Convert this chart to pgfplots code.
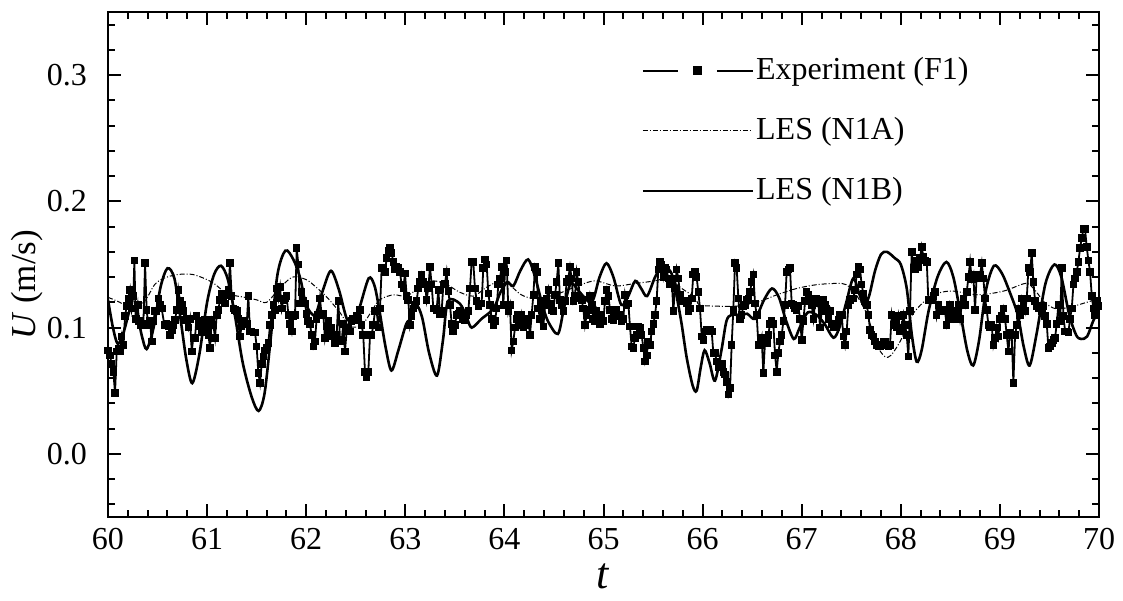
\documentclass[border=0pt]{standalone}
\usepackage{fontspec}
\setmainfont{Liberation Serif}
\usepackage{pgfplots}
\pgfplotsset{compat=1.18}
\usepackage{pgfplotstable}

\pgfplotstableread{
t U
60.003 0.082
60.020 0.078
60.037 0.071
60.054 0.065
60.071 0.048
60.088 0.081
60.105 0.083
60.121 0.081
60.138 0.093
60.155 0.086
60.172 0.109
60.189 0.117
60.205 0.123
60.222 0.130
60.239 0.115
60.256 0.125
60.266 0.153
60.280 0.107
60.300 0.118
60.313 0.105
60.333 0.102
60.357 0.103
60.374 0.151
60.390 0.114
60.407 0.102
60.424 0.105
60.441 0.089
60.458 0.105
60.475 0.113
60.491 0.113
60.508 0.123
60.525 0.118
60.542 0.115
60.569 0.102
60.592 0.103
60.609 0.101
60.626 0.094
60.643 0.098
60.660 0.102
60.676 0.106
60.693 0.114
60.710 0.130
60.727 0.121
60.744 0.118
60.760 0.113
60.777 0.106
60.794 0.107
60.811 0.100
60.828 0.107
60.845 0.081
60.861 0.092
60.878 0.092
60.895 0.109
60.912 0.105
60.929 0.101
60.945 0.096
60.962 0.103
60.979 0.106
60.996 0.100
61.013 0.094
61.030 0.084
61.046 0.106
61.063 0.102
61.080 0.092
61.097 0.110
61.114 0.114
61.130 0.122
61.147 0.127
61.164 0.123
61.181 0.119
61.198 0.126
61.215 0.130
61.231 0.151
61.248 0.125
61.265 0.115
61.282 0.114
61.299 0.113
61.315 0.107
61.332 0.093
61.349 0.101
61.366 0.105
61.383 0.103
61.400 0.103
61.416 0.125
61.433 0.097
61.450 0.097
61.467 0.096
61.484 0.096
61.500 0.085
61.517 0.064
61.534 0.056
61.551 0.071
61.568 0.077
61.585 0.082
61.601 0.084
61.618 0.088
61.635 0.102
61.652 0.110
61.669 0.118
61.685 0.114
61.702 0.131
61.719 0.123
61.736 0.132
61.753 0.115
61.770 0.122
61.786 0.123
61.803 0.125
61.820 0.110
61.837 0.103
61.854 0.097
61.870 0.109
61.887 0.110
61.904 0.163
61.921 0.150
61.938 0.119
61.954 0.128
61.971 0.121
61.987 0.119
62.004 0.111
62.021 0.105
62.038 0.103
62.055 0.094
62.072 0.085
62.088 0.089
62.105 0.107
62.122 0.110
62.139 0.123
62.156 0.110
62.172 0.111
62.189 0.092
62.206 0.101
62.223 0.105
62.240 0.098
62.257 0.100
62.273 0.093
62.290 0.088
62.307 0.094
62.324 0.121
62.341 0.090
62.358 0.089
62.374 0.103
62.391 0.081
62.408 0.097
62.425 0.100
62.442 0.097
62.459 0.105
62.475 0.107
62.492 0.106
62.509 0.109
62.526 0.107
62.543 0.114
62.560 0.102
62.576 0.094
62.593 0.065
62.610 0.061
62.627 0.065
62.644 0.094
62.660 0.094
62.677 0.102
62.694 0.113
62.711 0.113
62.728 0.100
62.745 0.115
62.761 0.147
62.778 0.147
62.795 0.144
62.812 0.155
62.829 0.161
62.845 0.163
62.862 0.159
62.879 0.152
62.896 0.146
62.913 0.148
62.930 0.147
62.946 0.144
62.963 0.134
62.980 0.131
62.997 0.143
63.014 0.125
63.030 0.122
63.047 0.102
63.064 0.109
63.081 0.115
63.098 0.118
63.114 0.121
63.131 0.131
63.148 0.136
63.165 0.142
63.182 0.136
63.199 0.134
63.215 0.122
63.232 0.131
63.249 0.148
63.266 0.134
63.283 0.115
63.299 0.115
63.316 0.114
63.333 0.130
63.350 0.111
63.367 0.113
63.384 0.134
63.400 0.135
63.417 0.144
63.434 0.129
63.451 0.118
63.468 0.103
63.484 0.097
63.501 0.102
63.518 0.110
63.535 0.111
63.552 0.113
63.569 0.111
63.585 0.107
63.602 0.106
63.619 0.110
63.636 0.113
63.653 0.131
63.669 0.152
63.686 0.152
63.703 0.131
63.720 0.121
63.737 0.117
63.754 0.119
63.770 0.119
63.787 0.147
63.804 0.154
63.821 0.150
63.838 0.127
63.854 0.118
63.871 0.107
63.888 0.102
63.905 0.105
63.922 0.115
63.938 0.134
63.955 0.139
63.972 0.148
63.989 0.118
64.006 0.144
64.023 0.153
64.040 0.113
64.056 0.118
64.073 0.082
64.090 0.089
64.107 0.100
64.124 0.107
64.140 0.110
64.157 0.102
64.174 0.110
64.191 0.100
64.208 0.102
64.225 0.106
64.241 0.107
64.258 0.094
64.275 0.110
64.292 0.126
64.309 0.148
64.326 0.144
64.342 0.115
64.359 0.107
64.376 0.121
64.393 0.101
64.410 0.118
64.426 0.123
64.443 0.130
64.460 0.119
64.477 0.114
64.494 0.113
64.511 0.126
64.527 0.136
64.544 0.151
64.561 0.122
64.578 0.118
64.595 0.113
64.611 0.121
64.628 0.136
64.645 0.139
64.662 0.148
64.679 0.139
64.696 0.121
64.712 0.125
64.729 0.144
64.746 0.136
64.763 0.123
64.780 0.122
64.796 0.115
64.813 0.102
64.830 0.110
64.847 0.114
64.864 0.125
64.881 0.118
64.897 0.107
64.914 0.105
64.931 0.113
64.948 0.105
64.965 0.103
64.981 0.110
64.998 0.105
65.015 0.121
65.032 0.130
65.049 0.125
65.066 0.114
65.082 0.107
65.099 0.106
65.116 0.113
65.133 0.114
65.150 0.109
65.166 0.110
65.183 0.105
65.200 0.107
65.217 0.126
65.234 0.118
65.251 0.119
65.267 0.101
65.284 0.085
65.301 0.084
65.318 0.092
65.335 0.094
65.351 0.101
65.368 0.100
65.385 0.094
65.402 0.084
65.419 0.073
65.436 0.078
65.452 0.089
65.469 0.086
65.486 0.097
65.503 0.103
65.520 0.110
65.536 0.121
65.553 0.146
65.570 0.152
65.587 0.150
65.604 0.140
65.621 0.147
65.637 0.146
65.654 0.139
65.671 0.134
65.688 0.139
65.705 0.113
65.721 0.131
65.738 0.146
65.755 0.139
65.772 0.126
65.789 0.121
65.806 0.121
65.822 0.121
65.839 0.119
65.856 0.113
65.873 0.115
65.890 0.123
65.906 0.142
65.923 0.144
65.940 0.140
65.957 0.128
65.974 0.115
65.991 0.093
66.008 0.090
66.024 0.097
66.041 0.098
66.058 0.097
66.075 0.098
66.092 0.097
66.108 0.080
66.125 0.080
66.142 0.073
66.159 0.069
66.176 0.071
66.193 0.071
66.209 0.065
66.226 0.063
66.243 0.057
66.260 0.047
66.277 0.052
66.293 0.086
66.310 0.114
66.327 0.151
66.344 0.147
66.361 0.123
66.378 0.107
66.394 0.110
66.411 0.117
66.428 0.118
66.445 0.122
66.462 0.123
66.478 0.128
66.495 0.136
66.512 0.142
66.529 0.119
66.546 0.110
66.563 0.086
66.579 0.086
66.596 0.092
66.613 0.064
66.630 0.089
66.647 0.088
66.663 0.094
66.680 0.103
66.697 0.105
66.714 0.103
66.731 0.078
66.748 0.065
66.764 0.080
66.781 0.089
66.798 0.094
66.815 0.105
66.832 0.118
66.848 0.144
66.865 0.146
66.882 0.147
66.899 0.119
66.916 0.118
66.933 0.115
66.949 0.114
66.966 0.117
66.983 0.107
67.000 0.090
67.017 0.105
67.034 0.121
67.050 0.128
67.067 0.126
67.084 0.123
67.101 0.118
67.118 0.107
67.134 0.119
67.151 0.123
67.168 0.119
67.185 0.100
67.202 0.113
67.219 0.122
67.235 0.118
67.252 0.115
67.269 0.107
67.286 0.113
67.303 0.103
67.319 0.100
67.336 0.100
67.353 0.100
67.370 0.106
67.387 0.110
67.404 0.110
67.420 0.093
67.437 0.086
67.454 0.097
67.471 0.118
67.488 0.122
67.505 0.123
67.521 0.123
67.538 0.130
67.555 0.142
67.572 0.148
67.589 0.146
67.605 0.134
67.622 0.127
67.639 0.121
67.656 0.118
67.673 0.110
67.690 0.098
67.706 0.094
67.723 0.093
67.740 0.089
67.757 0.086
67.774 0.085
67.790 0.085
67.807 0.086
67.824 0.089
67.841 0.089
67.858 0.086
67.875 0.085
67.891 0.086
67.908 0.110
67.925 0.102
67.942 0.105
67.959 0.100
67.976 0.109
67.992 0.097
68.009 0.100
68.026 0.110
68.043 0.102
68.060 0.094
68.076 0.077
68.093 0.113
68.110 0.160
68.127 0.147
68.144 0.146
68.161 0.153
68.177 0.148
68.194 0.155
68.211 0.164
68.228 0.156
68.245 0.153
68.262 0.152
68.278 0.122
68.295 0.122
68.312 0.122
68.329 0.125
68.346 0.128
68.362 0.110
68.379 0.118
68.396 0.113
68.413 0.113
68.430 0.114
68.446 0.113
68.463 0.102
68.480 0.107
68.497 0.118
68.514 0.113
68.531 0.107
68.547 0.113
68.564 0.110
68.581 0.118
68.598 0.107
68.615 0.118
68.632 0.123
68.648 0.118
68.665 0.128
68.682 0.140
68.699 0.152
68.716 0.138
68.732 0.142
68.749 0.114
68.766 0.142
68.783 0.139
68.800 0.142
68.817 0.151
68.833 0.139
68.850 0.123
68.867 0.114
68.884 0.102
68.901 0.100
68.917 0.102
68.934 0.086
68.951 0.092
68.968 0.100
68.985 0.093
69.002 0.107
69.018 0.109
69.035 0.115
69.052 0.107
69.069 0.094
69.086 0.081
69.102 0.096
69.119 0.094
69.136 0.056
69.153 0.094
69.170 0.102
69.187 0.115
69.203 0.110
69.220 0.123
69.237 0.119
69.254 0.113
69.271 0.123
69.288 0.147
69.304 0.144
69.321 0.159
69.338 0.136
69.355 0.121
69.372 0.117
69.388 0.115
69.405 0.117
69.422 0.113
69.439 0.117
69.456 0.109
69.473 0.103
69.489 0.084
69.506 0.085
69.523 0.088
69.540 0.090
69.557 0.092
69.573 0.103
69.590 0.118
69.607 0.105
69.624 0.147
69.641 0.109
69.658 0.097
69.674 0.097
69.691 0.096
69.708 0.107
69.725 0.115
69.742 0.134
69.758 0.139
69.775 0.144
69.792 0.152
69.809 0.163
69.826 0.171
69.843 0.178
69.859 0.178
69.876 0.164
69.893 0.153
69.910 0.144
69.927 0.125
69.943 0.115
69.960 0.110
69.977 0.121
69.994 0.117
}\expdata

\pgfplotstableread{
t U
60.00 0.124
60.12 0.120
60.26 0.114
60.38 0.122
60.47 0.134
60.56 0.139
60.70 0.142
60.86 0.142
61.05 0.136
61.20 0.127
61.38 0.124
61.50 0.122
61.60 0.120
61.72 0.130
61.86 0.140
62.00 0.138
62.10 0.132
62.21 0.124
62.34 0.112
62.44 0.101
62.56 0.102
62.66 0.113
62.74 0.122
62.88 0.126
63.01 0.125
63.15 0.132
63.28 0.137
63.42 0.134
63.55 0.128
63.69 0.125
63.82 0.132
63.96 0.137
64.05 0.134
64.17 0.126
64.31 0.123
64.51 0.126
64.71 0.132
64.91 0.137
65.12 0.133
65.32 0.135
65.52 0.137
65.65 0.139
65.79 0.131
65.92 0.124
65.97 0.118
66.14 0.117
66.34 0.117
66.55 0.120
66.75 0.126
66.95 0.131
67.15 0.134
67.35 0.135
67.45 0.134
67.55 0.126
67.66 0.110
67.76 0.086
67.84 0.077
67.90 0.078
68.00 0.090
68.10 0.108
68.20 0.118
68.33 0.126
68.51 0.129
68.78 0.126
69.04 0.129
69.26 0.135
69.35 0.130
69.45 0.120
69.56 0.115
69.70 0.116
69.79 0.118
70.00 0.123
}\nonea

\pgfplotstableread{
t U
60.00 0.122
60.05 0.100
60.10 0.087
60.16 0.097
60.23 0.116
60.29 0.112
60.34 0.094
60.39 0.083
60.46 0.100
60.53 0.132
60.60 0.147
60.67 0.139
60.73 0.108
60.79 0.075
60.85 0.056
60.92 0.078
61.00 0.120
61.07 0.142
61.14 0.149
61.21 0.138
61.28 0.110
61.36 0.072
61.45 0.045
61.52 0.034
61.58 0.048
61.64 0.090
61.71 0.142
61.79 0.161
61.87 0.154
61.94 0.139
62.00 0.118
62.09 0.110
62.17 0.130
62.25 0.145
62.33 0.130
62.41 0.107
62.47 0.108
62.53 0.114
62.63 0.139
62.69 0.133
62.74 0.113
62.80 0.085
62.86 0.066
62.93 0.082
63.01 0.103
63.06 0.107
63.11 0.118
63.17 0.108
63.24 0.080
63.32 0.062
63.38 0.090
63.43 0.121
63.55 0.119
63.62 0.108
63.67 0.100
63.77 0.107
63.89 0.115
63.96 0.128
64.03 0.136
64.09 0.133
64.16 0.145
64.24 0.154
64.31 0.140
64.38 0.119
64.44 0.105
64.54 0.095
64.60 0.115
64.67 0.135
64.76 0.128
64.88 0.120
64.96 0.140
65.03 0.151
65.10 0.140
65.18 0.118
65.25 0.125
65.32 0.137
65.38 0.131
65.44 0.125
65.52 0.140
65.59 0.149
65.65 0.147
65.70 0.140
65.75 0.120
65.79 0.102
65.84 0.076
65.90 0.054
65.94 0.050
65.98 0.068
66.02 0.082
66.07 0.072
66.125 0.058
66.19 0.082
66.24 0.105
66.29 0.110
66.39 0.110
66.45 0.111
66.53 0.107
66.62 0.122
66.70 0.131
66.77 0.124
66.84 0.106
66.92 0.091
66.98 0.100
67.06 0.112
67.15 0.110
67.23 0.103
67.32 0.092
67.38 0.100
67.45 0.120
67.52 0.139
67.58 0.127
67.63 0.117
67.68 0.125
67.74 0.145
67.80 0.158
67.86 0.160
67.94 0.155
68.00 0.150
68.06 0.131
68.11 0.095
68.16 0.073
68.21 0.082
68.28 0.113
68.37 0.140
68.46 0.152
68.53 0.140
68.60 0.112
68.67 0.082
68.73 0.070
68.79 0.090
68.86 0.130
68.94 0.149
69.02 0.143
69.10 0.128
69.18 0.110
69.24 0.085
69.30 0.070
69.37 0.095
69.46 0.135
69.55 0.150
69.62 0.140
69.70 0.110
69.77 0.094
69.82 0.091
69.88 0.093
69.94 0.105
70.00 0.115
}\noneb

\begin{document}
\fontsize{16}{19}\selectfont
\begin{tikzpicture}
\begin{axis}[
  name=ax,
  scale only axis,
  width=495.5pt, height=252.5pt,
  xmin=60, xmax=70, ymin=-0.05, ymax=0.35,
  xtick={60,61,...,70}, minor x tick num=4,
  ytick={0,0.1,0.2,0.3},
  minor ytick={-0.04,-0.02,0.02,0.04,0.06,0.08,0.12,0.14,0.16,0.18,0.22,0.24,0.26,0.28,0.32,0.34},
  scaled y ticks=false,
  tick align=inside,
  major tick length=6.5pt, minor tick length=3.5pt,
  tick style={black, line width=1pt},
  axis line style={line width=1.4pt},
  /pgf/number format/assume math mode=true,
  ticklabel style={font=\fontsize{16}{19}\selectfont},
  yticklabel style={/pgf/number format/fixed, /pgf/number format/fixed zerofill, /pgf/number format/precision=1, xshift=-5pt},
  xlabel={\textit{t}}, ylabel={\textit{U} (m/s)},
  xlabel style={font=\fontsize{22}{26}\selectfont, yshift=4pt},
  every axis y label/.style={at={(axis description cs:-0.0817,0.46)}, rotate=90, anchor=center,
    font=\fontsize{17.5}{21}\selectfont},
  legend style={draw=none, fill=none, at={(0.538,0.915)}, anchor=north west,
    font=\fontsize{16}{19}\selectfont, row sep=14.5pt, inner sep=0pt,
    nodes={inner sep=1pt}},
  legend cell align=left,
]
\addplot[black, line width=0.9pt, mark=square*, mark size=1.45pt,
  legend image code/.code={
    \draw[line width=0.9pt] (0pt,0pt) -- (17.5pt,0pt);
    \draw[line width=0.9pt] (37pt,0pt) -- (55pt,0pt);
    \fill (27.3pt,0pt) +(-1.8pt,-1.8pt) rectangle +(1.8pt,1.8pt);
  }] table[x=t,y=U] {\expdata};
\addlegendentry{Experiment (F1)}
\addplot[black, line width=0.5pt, smooth, dash pattern=on 2.5pt off 1pt on 0.5pt off 1pt,
  legend image code/.code={
    \draw[line width=0.5pt, dash pattern=on 2.5pt off 1pt on 0.5pt off 1pt] (0pt,0pt) -- (55pt,0pt);
  }] table[x=t,y=U] {\nonea};
\addlegendentry{LES (N1A)}
\addplot[black, line width=1.3pt, smooth,
  legend image code/.code={
    \draw[line width=1.3pt] (0pt,0pt) -- (55pt,0pt);
  }] table[x=t,y=U] {\noneb};
\addlegendentry{LES (N1B)}
\end{axis}
\path (ax.south west) ++(-54pt,-42pt) coordinate (bl);
\path (ax.north east) ++(12pt,6pt) coordinate (tr);
\pgfresetboundingbox
\path (bl) rectangle (tr);
\end{tikzpicture}
\end{document}
